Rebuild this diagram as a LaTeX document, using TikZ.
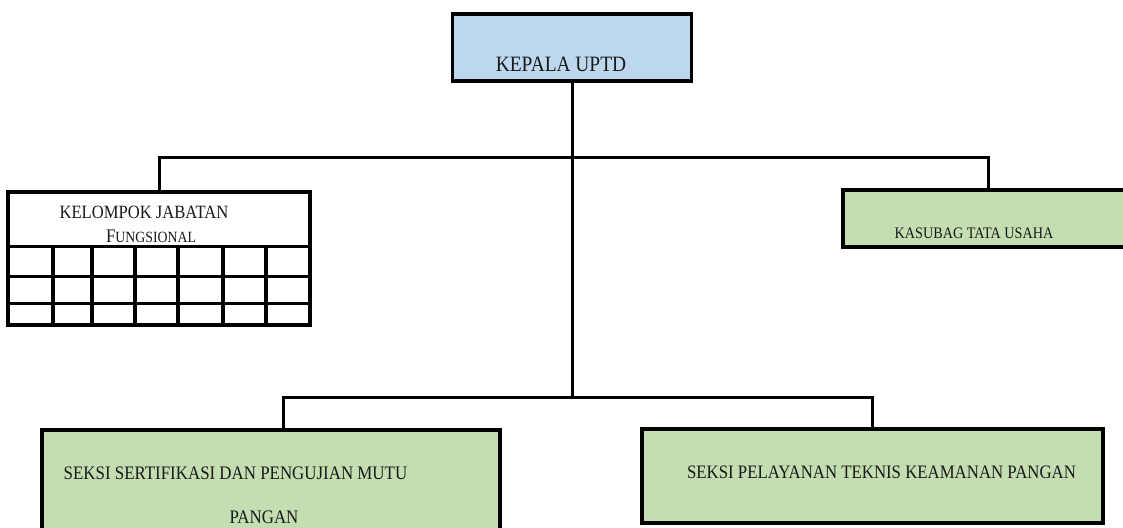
\documentclass[tikz,border=0pt]{standalone}
\usepackage{fontspec}
\usepackage{graphicx}
\setmainfont{Liberation Serif}
\definecolor{headblue}{HTML}{BDD7EE}
\definecolor{unitgreen}{HTML}{C4DDB1}
\newcommand{\tallT}[1]{\scalebox{1}[1.13]{#1}}
\begin{document}
\begin{tikzpicture}[x=1pt,y=-1pt,
  box/.style={draw=black, line width=3.5pt, inner sep=0pt},
  conn/.style={draw=black, line width=3pt},
  grid/.style={draw=black, line width=3.2pt},
  lbl/.style={inner sep=0pt, anchor=center, text=black!90}]
\useasboundingbox (0,0) rectangle (1123,527);
\clip (0,0) rectangle (1123,527);
% boxes
\node[box, fill=headblue, minimum width=239pt, minimum height=67pt] (kepala) at (572,47.5) {};
\node[box, fill=white, minimum width=302pt, minimum height=133pt] (kjf) at (159,258.5) {};
\node[box, fill=unitgreen, minimum width=300pt, minimum height=57pt] (kasubag) at (993,218.5) {};
\node[box, fill=unitgreen, minimum width=458pt, minimum height=110pt] (seksi1) at (271,485) {};
\node[box, fill=unitgreen, minimum width=461pt, minimum height=94pt] (seksi2) at (872.5,476) {};
% grid in KJF box
\draw[grid] (8,246.5) -- (310,246.5);
\draw[grid] (8,276.5) -- (310,276.5);
\draw[grid] (8,303.5) -- (310,303.5);
\foreach \cx in {53,92,135,178,223,266} \draw[grid] (\cx,246.5) -- (\cx,325);
% labels
\node[lbl, font=\fontsize{19.4}{22}\selectfont] (tkepala) at (561,64) {\tallT{KEPALA UPTD}};
\node[lbl, font=\fontsize{16.6}{19}\selectfont] (tkjf1) at (144,212) {\tallT{KELOMPOK JABATAN}};
\node[lbl] (tkjf2) at (151,236.5) {\tallT{{\fontsize{17}{19}\selectfont F}{\fontsize{13.8}{16}\selectfont UNGSIONAL}}};
\node[lbl, font=\fontsize{14.2}{17}\selectfont] (tkasubag) at (974,233) {\tallT{KASUBAG TATA USAHA}};
\node[lbl, font=\fontsize{16.9}{19}\selectfont] (tseksi1a) at (235.5,473) {\tallT{SEKSI SERTIFIKASI DAN PENGUJIAN MUTU}};
\node[lbl, font=\fontsize{16.9}{19}\selectfont] (tseksi1b) at (264,517) {\tallT{PANGAN}};
\node[lbl, font=\fontsize{16.8}{19}\selectfont] (tseksi2) at (881.5,472) {\tallT{SEKSI PELAYANAN TEKNIS KEAMANAN PANGAN}};
% connectors
\coordinate (hub1) at (572,157);
\coordinate (hub2) at (572,397);
\coordinate (kasTop) at (988,190);
\coordinate (s1Top) at (283,430);
\draw[conn] (kepala.south) -- (hub2);
\draw[conn] (kjf.north) |- (hub1) -| (kasTop);
\draw[conn] (s1Top) |- (hub2) -| (seksi2.north);
\end{tikzpicture}
\end{document}
